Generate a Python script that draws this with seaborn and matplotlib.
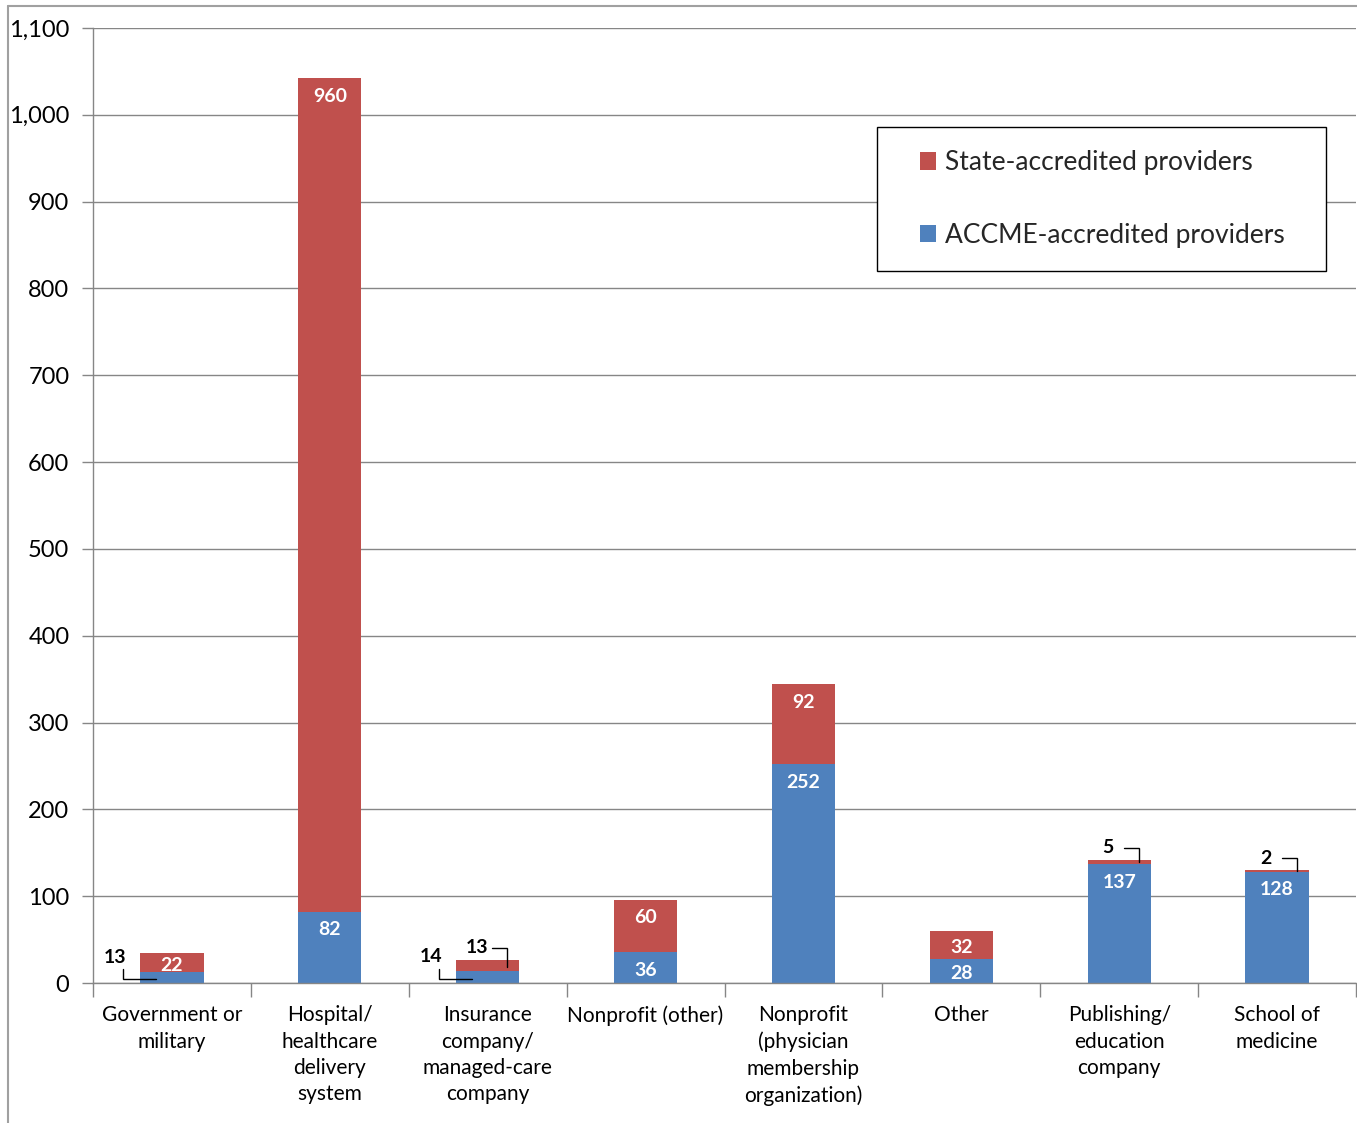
import matplotlib
matplotlib.use("Agg")
import matplotlib.pyplot as plt
import seaborn as sns
import numpy as np
from matplotlib.lines import Line2D
from matplotlib.patches import Rectangle
from matplotlib.ticker import FuncFormatter, MultipleLocator

# datos
categorias = ["Government or\nmilitary", "Hospital/\nhealthcare\ndelivery\nsystem",
              "Insurance\ncompany/\nmanaged-care\ncompany", "Nonprofit (other)",
              "Nonprofit\n(physician\nmembership\norganization)", "Other",
              "Publishing/\neducation\ncompany", "School of\nmedicine"]
accme = [13, 82, 14, 36, 252, 28, 137, 128]
estatal = [22, 960, 13, 60, 92, 32, 5, 2]
# etiquetas que van fuera de la barra (con línea guía)
fuera_accme = [0, 2]
fuera_estatal = [2, 6, 7]

ROJO = "#C0504D"
AZUL = "#4F81BD"
GRIS = "#868686"

sns.set_theme(style="white")
plt.rcParams["font.family"] = ["Lato", "DejaVu Sans"]

fig = plt.figure(figsize=(13.57, 11.23), dpi=100)
ax = fig.add_axes([93 / 1357, 1 - 983 / 1123, 1263 / 1357, 955 / 1123])

totales = [a + b for a, b in zip(accme, estatal)]
x = np.arange(len(categorias))
sns.barplot(x=x, y=totales, color=ROJO, width=0.4, saturation=1, ax=ax,
            linewidth=0, label="State-accredited providers")
sns.barplot(x=x, y=accme, color=AZUL, width=0.4, saturation=1, ax=ax,
            linewidth=0, label="ACCME-accredited providers")

ax.set_xlim(-0.5, len(categorias) - 0.5)
ax.set_ylim(0, 1100)
ax.yaxis.set_major_locator(MultipleLocator(100))
ax.yaxis.set_major_formatter(FuncFormatter(lambda v, p: f"{int(v):,}"))
ax.grid(axis="y", color=GRIS, linewidth=1)
ax.set_axisbelow(True)
for s in ["top", "right"]:
    ax.spines[s].set_visible(False)
for s in ["left", "bottom"]:
    ax.spines[s].set_color(GRIS)
    ax.spines[s].set_linewidth(1)

ax.set_xticks(x)
ax.set_xticklabels(categorias, fontsize=15, linespacing=1.4)
ax.set_xticks(np.arange(-0.5, len(categorias)), minor=True)
ax.tick_params(axis="x", which="major", length=0, pad=16, colors="black")
ax.tick_params(axis="x", which="minor", length=10, width=1, color=GRIS, bottom=True)
ax.tick_params(axis="y", length=8, width=1, color=GRIS, pad=9, labelsize=17, left=True)
for t in ax.get_yticklabels():
    t.set_color("black")
ax.set_xlabel("")
ax.set_ylabel("")

# etiquetas de valores
uy = 100 / 86.8  # unidades por pixel en y
kw = dict(ha="center", va="center", fontsize=14, fontweight="bold")


def pos_interna(base, valor):
    mitad = base + valor / 2
    tope = base + valor - 18 * uy
    return tope if tope > mitad else mitad - 3 * uy


for i in x:
    a, b = accme[i], estatal[i]
    if i in fuera_accme:
        m = a / 2
        ax.text(i - 0.36, m + 20 * uy, str(a), color="black", **kw)
        ax.plot([i - 0.31, i - 0.31, i - 0.1], [m + 8 * uy, m - 2 * uy, m - 2 * uy],
                color="black", lw=1, solid_joinstyle="miter")
    else:
        ax.text(i, pos_interna(0, a), str(a), color="white", **kw)
    top = a + b
    if i in fuera_estatal:
        ax.text(i - 0.07, top + 12 * uy, str(b), color="black", **kw)
        ax.plot([i + 0.03, i + 0.125, i + 0.125],
                [top + 12 * uy, top + 12 * uy, a + b / 2 - (2 * uy if b > 5 else 0)],
                color="black", lw=1, solid_joinstyle="miter")
    else:
        ax.text(i, pos_interna(a, b), str(b), color="white", **kw)

# leyenda (marco dibujado aparte)
ax.add_patch(Rectangle((0.6207, 0.7455), 0.3555, 0.1508, transform=ax.transAxes,
                       facecolor="white", edgecolor="black", lw=1, zorder=5,
                       clip_on=False))
manijas, etiquetas = ax.get_legend_handles_labels()
leg = ax.legend(manijas, etiquetas, loc="center left", bbox_to_anchor=(0.6548, 0.8209),
                fontsize=19, frameon=False, labelspacing=1.8,
                handlelength=0.62, handleheight=0.62, handletextpad=0.33,
                borderpad=0, borderaxespad=0)
leg.set_zorder(6)

# borde exterior del gráfico
fig.add_artist(Line2D([8 / 1357, 8 / 1357], [0, 1 - 6 / 1123], color="#A0A0A0", lw=1.5))
fig.add_artist(Line2D([8 / 1357, 1], [1 - 6 / 1123, 1 - 6 / 1123], color="#A0A0A0", lw=1.5))

fig.savefig("out.png", dpi=100)
